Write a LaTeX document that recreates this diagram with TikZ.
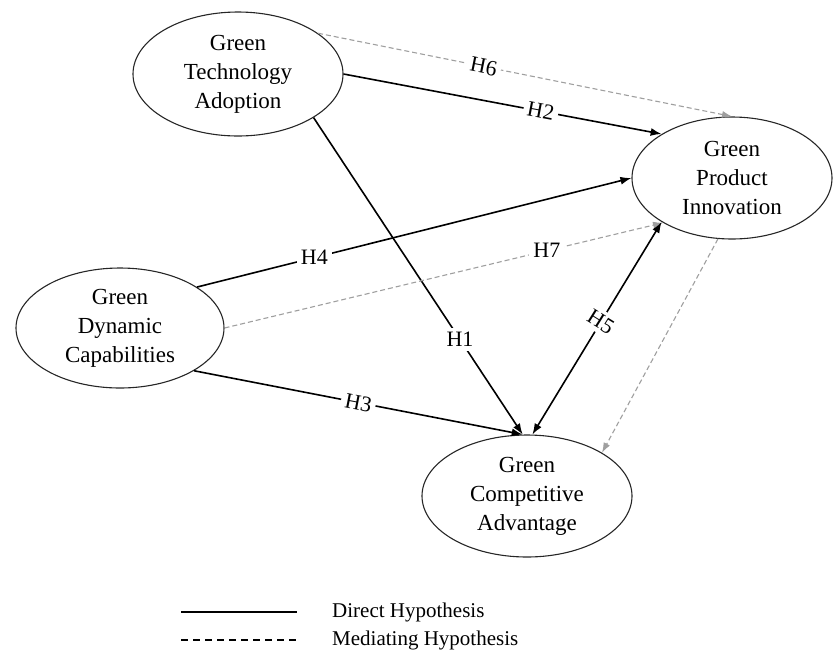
\documentclass[tikz,border=0pt]{standalone}
\usepackage{fontspec}
\setmainfont{Liberation Serif}
\usetikzlibrary{shapes.geometric,calc,arrows.meta}

\begin{document}
\begin{tikzpicture}[x=1pt,y=-1pt,
    construct/.style={ellipse,draw=black!85,line width=1.1pt,inner sep=0pt,align=center,font=\fontsize{23}{29}\selectfont},
    link/.style={-{Latex[length=11pt,width=8pt]},line width=1.6pt},
    mediate/.style={-{Latex[length=10pt,width=7pt]},dash pattern=on 5pt off 3pt,draw=gray!75,line width=1.1pt},
    hyp/.style={fill=white,inner sep=4pt,font=\fontsize{22}{22}\selectfont},
    legendtext/.style={anchor=base west,inner sep=0pt,font=\fontsize{21}{21}\selectfont}]
      \useasboundingbox (0,0) rectangle (833,649);

      \node[construct,minimum width=210pt,minimum height=124pt] (adoption) at (238,74) {Green\\Technology\\Adoption};
      \node[construct,minimum width=200pt,minimum height=122pt] (innovation) at (732,178) {Green\\Product\\Innovation};
      \node[construct,minimum width=208pt,minimum height=120pt] (dynamic) at (120,328) {Green\\Dynamic\\Capabilities};
      \node[construct,minimum width=210pt,minimum height=122pt] (advantage) at (527,496) {Green\\Competitive\\Advantage};

      \draw[mediate] (adoption.27) -- node[hyp,sloped,pos=0.4] {H6} (innovation.90);
      \draw[link] (adoption.0) -- node[hyp,sloped,pos=0.62] {H2} (innovation.148);
      \draw[link] (adoption.-30) -- node[hyp,pos=0.7] {H1} (advantage.94);
      \draw[link] (dynamic.28) -- node[hyp,pos=0.27] {H4} (innovation.180);
      \draw[mediate] (dynamic.0) -- node[hyp,pos=0.735] {H7} (innovation.213);
      \draw[link] (dynamic.-30) -- node[hyp,sloped,pos=0.5] {H3} (advantage.94);
      \draw[link,{Latex[length=11pt,width=8pt]}-{Latex[length=11pt,width=8pt]}] (advantage.85) -- node[hyp,rotate=-32,pos=0.53] {H5} (innovation.212);
      \draw[mediate] (innovation.257) -- (advantage.30);

      % legend
      \coordinate (solidstart) at (181,612);
      \coordinate (solidend) at (297,612);
      \coordinate (dashstart) at (181,640);
      \coordinate (dashend) at (297,640);
      \draw[line width=1.6pt] (solidstart) -- (solidend);
      \draw[line width=1.3pt,dash pattern=on 7pt off 5pt] (dashstart) -- (dashend);
      \node[legendtext] (direct) at (332,617) {Direct Hypothesis};
      \node[legendtext] (mediating) at (332,645) {Mediating Hypothesis};
    \end{tikzpicture}
\end{document}
